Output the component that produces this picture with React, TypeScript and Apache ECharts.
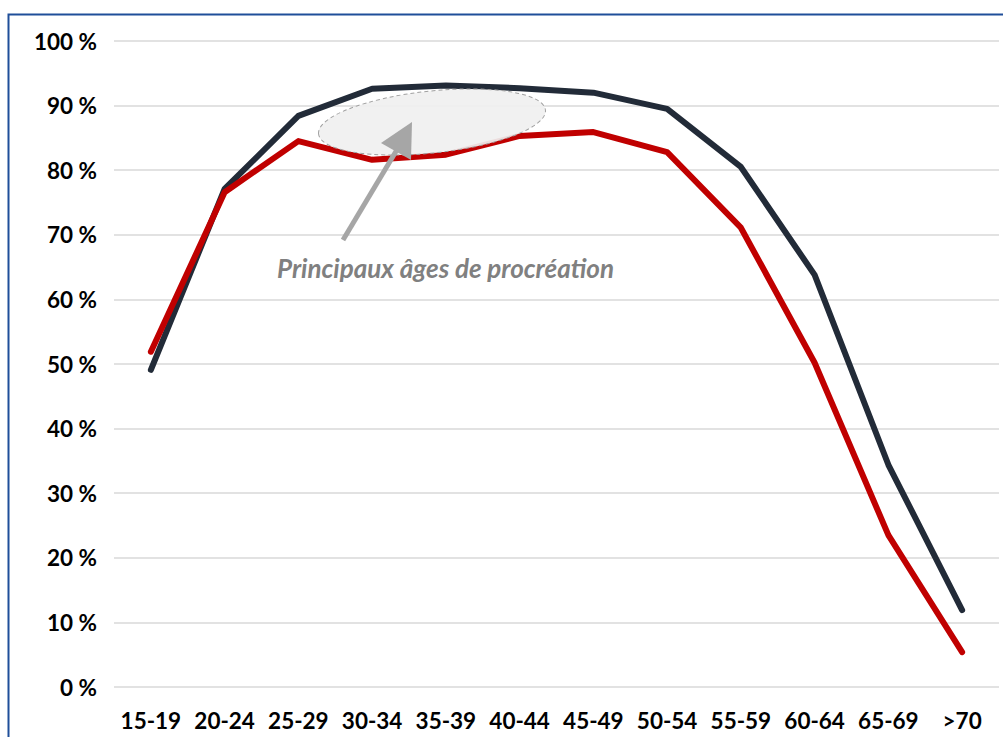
import React, { useEffect, useRef } from "react";
import * as echarts from "echarts";

const categories = ["15-19", "20-24", "25-29", "30-34", "35-39", "40-44", "45-49", "50-54", "55-59", "60-64", "65-69", ">70"];
const darkSeries = [49.1, 77.1, 88.4, 92.6, 93.1, 92.7, 92.0, 89.5, 80.5, 63.8, 34.4, 11.9];
const redSeries = [51.9, 76.6, 84.5, 81.6, 82.4, 85.3, 85.9, 82.8, 71.1, 50.2, 23.5, 5.4];
const yTicks = { min: 0, max: 100, interval: 10 };
const annotationText = "Principaux âges de procréation";

export default function App() {
  const ref = useRef<HTMLDivElement>(null);
  useEffect(() => {
    if (!ref.current) return;
    const chart = echarts.init(ref.current, null, { renderer: "svg" });
    const labelFont = "Lato, 'Open Sans', sans-serif";
    chart.setOption({
      animation: false,
      backgroundColor: "#ffffff",
      grid: { left: 114, right: 4, top: 41, bottom: 50, containLabel: false },
      xAxis: {
        type: "category",
        data: categories,
        boundaryGap: true,
        axisLine: { show: false },
        axisTick: { show: false },
        axisLabel: { color: "#000", fontWeight: "bold", fontSize: 22.5, fontFamily: labelFont, margin: 22, interval: 0 },
        splitLine: { show: false },
      },
      yAxis: {
        type: "value",
        min: yTicks.min,
        max: yTicks.max,
        interval: yTicks.interval,
        axisLine: { show: false },
        axisTick: { show: false },
        axisLabel: { color: "#000", fontWeight: "bold", fontSize: 22.5, fontFamily: labelFont, margin: 17, formatter: "{value} %" },
        splitLine: { show: true, lineStyle: { color: "#d9d9d9", width: 1.5 } },
      },
      series: [
        {
          type: "line",
          data: darkSeries,
          symbol: "none",
          lineStyle: { color: "#222b38", width: 6, cap: "round", join: "round" },
          z: 3,
        },
        {
          type: "line",
          data: redSeries,
          symbol: "none",
          lineStyle: { color: "#c00000", width: 6, cap: "round", join: "round" },
          z: 4,
        },
      ],
      graphic: [
        {
          type: "rect",
          shape: { x: 8.5, y: 14.5, width: 1010, height: 740 },
          style: { fill: "none", stroke: "#1f4e99", lineWidth: 2 },
          silent: true,
          z: 100,
        },
        {
          type: "ellipse",
          x: 432,
          y: 122,
          rotation: (6 * Math.PI) / 180,
          shape: { cx: 0, cy: 0, rx: 114, ry: 31 },
          style: { fill: "rgba(240,240,240,0.92)", stroke: "#a0a0a0", lineWidth: 1, lineDash: [4, 3] },
          z: 50,
        },
        {
          type: "line",
          shape: { x1: 343, y1: 240, x2: 398, y2: 148 },
          style: { stroke: "#a6a6a6", lineWidth: 5 },
          z: 51,
        },
        {
          type: "polygon",
          shape: { points: [[412, 122], [381, 143], [411, 160]] },
          style: { fill: "#a6a6a6" },
          z: 51,
        },
        {
          type: "text",
          x: 277,
          y: 268,
          style: {
            text: annotationText,
            fill: "#808080",
            font: "italic bold 26px Lato, 'Open Sans', sans-serif",
            textVerticalAlign: "middle",
            verticalAlign: "middle",
          },
          z: 52,
        },
      ],
    });
    return () => chart.dispose();
  }, []);
  return <div ref={ref} style={{ position: "absolute", left: 0, top: 0, width: 1003, height: 737 }} />;
}
